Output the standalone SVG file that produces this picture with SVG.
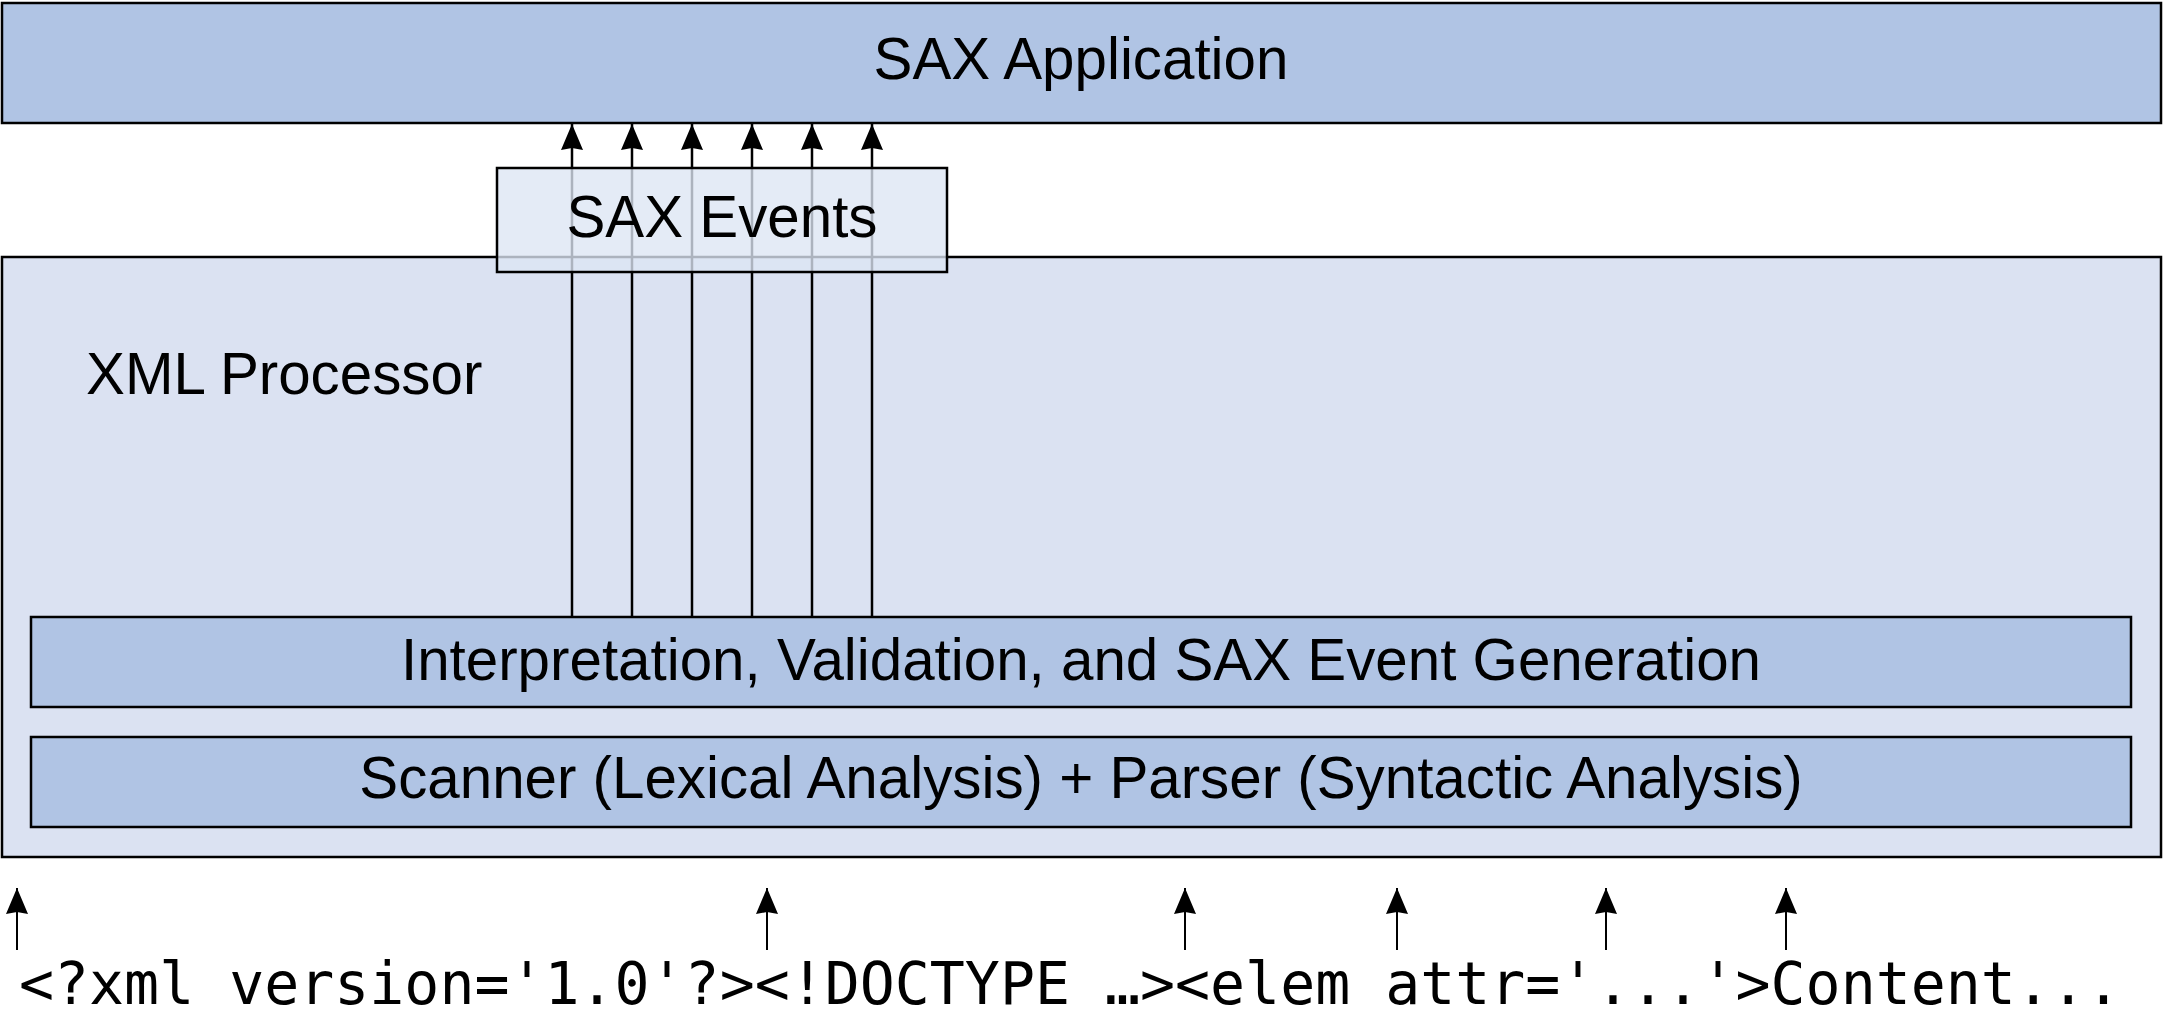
<svg xmlns="http://www.w3.org/2000/svg" width="2163" height="1023" viewBox="0 0 2163 1023">
  <style>
    .box { stroke: #000; stroke-width: 2.5; }
    .dark { fill: #b0c4e4; }
    .light { fill: #dbe2f2; }
    .events { fill: #dde5f3; fill-opacity: 0.78; }
    .lbl { font-family: "Liberation Sans", Arial, sans-serif; font-size: 58.3px; fill: #000; }
    .mid { text-anchor: middle; }
    .mono { font-family: "DejaVu Sans Mono", monospace; font-size: 58.2px; fill: #000; }
    .evt { stroke: #000; stroke-width: 2.5; fill: none; }
    .inp { stroke: #000; stroke-width: 2; fill: none; }
  </style>
  <defs>
    <marker id="ah" viewBox="0 0 26 22" refX="26" refY="11" markerWidth="26" markerHeight="22" markerUnits="userSpaceOnUse" orient="auto">
      <path d="M26,11 L0,0 L2,11 L0,22 Z" fill="#000"/>
    </marker>
  </defs>
  <rect width="2163" height="1023" fill="#fff"/>

  <g id="sax-application">
    <rect class="box dark" x="2" y="3" width="2159" height="120"/>
    <text class="lbl mid" x="1081" y="79">SAX Application</text>
  </g>

  <g id="xml-processor">
    <rect class="box light" x="2" y="257" width="2159" height="600"/>
    <text class="lbl" x="86" y="394">XML Processor</text>
  </g>

  <g id="interpretation">
    <rect class="box dark" x="31" y="617" width="2100" height="90"/>
    <text class="lbl mid" x="1081" y="680">Interpretation, Validation, and SAX Event Generation</text>
  </g>

  <g id="scanner">
    <rect class="box dark" x="31" y="737" width="2100" height="90"/>
    <text class="lbl mid" x="1081" y="798">Scanner (Lexical Analysis) + Parser (Syntactic Analysis)</text>
  </g>

  <g id="connectors">
    <line class="evt" x1="572" y1="617" x2="572" y2="124" marker-end="url(#ah)"/>
    <line class="evt" x1="632" y1="617" x2="632" y2="124" marker-end="url(#ah)"/>
    <line class="evt" x1="692" y1="617" x2="692" y2="124" marker-end="url(#ah)"/>
    <line class="evt" x1="752" y1="617" x2="752" y2="124" marker-end="url(#ah)"/>
    <line class="evt" x1="812" y1="617" x2="812" y2="124" marker-end="url(#ah)"/>
    <line class="evt" x1="872" y1="617" x2="872" y2="124" marker-end="url(#ah)"/>
    <line class="inp" x1="17" y1="950" x2="17" y2="888" marker-end="url(#ah)"/>
    <line class="inp" x1="767" y1="950" x2="767" y2="888" marker-end="url(#ah)"/>
    <line class="inp" x1="1185" y1="950" x2="1185" y2="888" marker-end="url(#ah)"/>
    <line class="inp" x1="1397" y1="950" x2="1397" y2="888" marker-end="url(#ah)"/>
    <line class="inp" x1="1606" y1="950" x2="1606" y2="888" marker-end="url(#ah)"/>
    <line class="inp" x1="1786" y1="950" x2="1786" y2="888" marker-end="url(#ah)"/>
  </g>

  <g id="sax-events">
    <rect class="box events" x="497" y="168" width="450" height="104"/>
    <text class="lbl mid" x="722" y="237">SAX Events</text>
  </g>

  <g id="xml-input">
    <text class="mono" x="19" y="1004">&lt;?xml version='1.0'?&gt;&lt;!DOCTYPE …&gt;&lt;elem attr='...'&gt;Content...</text>
  </g>
</svg>
